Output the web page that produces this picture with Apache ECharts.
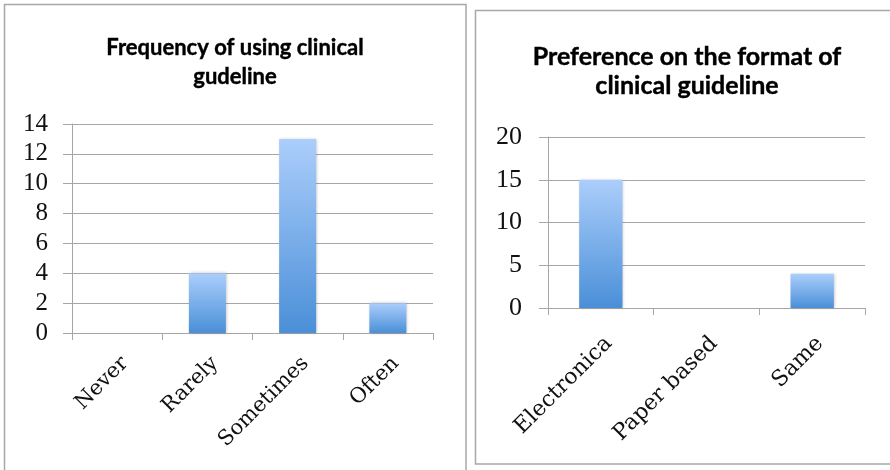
<!DOCTYPE html>
<html>
<head>
<meta charset="utf-8">
<script src="https://cdn.jsdelivr.net/npm/echarts@6/dist/echarts.min.js"></script>
<style>
html,body{margin:0;padding:0;background:#fff;}
#chart{width:890px;height:470px;}
</style>
</head>
<body>
<div id="chart"></div>
<script>
const leftTitle = 'Frequency of using clinical\ngudeline';
const leftCategories = ['Never', 'Rarely', 'Sometimes', 'Often'];
const leftValues = [0, 4, 13, 2];
const leftTicks = { min: 0, max: 14, interval: 2 };

const rightTitle = 'Preference on the format of\nclinical guideline';
const rightCategories = ['Electronica', 'Paper based', 'Same'];
const rightValues = [15, 0, 4];
const rightTicks = { min: 0, max: 20, interval: 5 };

const chart = echarts.init(document.getElementById('chart'), null, { renderer: 'canvas' });

const gridGray = '#a6a6a6';
const barFill = new echarts.graphic.LinearGradient(0, 0, 0, 1, [
  { offset: 0, color: '#abcefb' },
  { offset: 1, color: '#4a8fd8' }
]);

function xAxisDef(idx, cats, fontSize, margin) {
  return {
    type: 'category', gridIndex: idx, data: cats,
    axisLine: { show: true, lineStyle: { color: gridGray, width: 1 } },
    axisTick: { show: true, length: 7, lineStyle: { color: gridGray } },
    axisLabel: {
      rotate: 45, margin: margin, color: '#111',
      fontFamily: 'DejaVu Serif', fontSize: fontSize,
      padding: [0, -11, 0, 0]
    }
  };
}
function yAxisDef(idx, t, fontSize, margin) {
  return {
    type: 'value', gridIndex: idx, min: t.min, max: t.max, interval: t.interval,
    axisLine: { show: true, lineStyle: { color: gridGray, width: 1 } },
    axisTick: { show: true, length: 9, lineStyle: { color: gridGray } },
    splitLine: { show: true, lineStyle: { color: gridGray, width: 1 } },
    axisLabel: { margin: margin, color: '#111', fontFamily: 'Liberation Serif', fontSize: fontSize }
  };
}
const barStyle = {
  color: barFill,
  shadowBlur: 3, shadowColor: 'rgba(0,0,0,0.25)', shadowOffsetX: 1, shadowOffsetY: 0
};

chart.setOption({
  animation: false,
  backgroundColor: '#fff',
  grid: [
    { left: 72, top: 124, width: 361, height: 209 },
    { left: 548, top: 137, width: 317, height: 171 }
  ],
  xAxis: [
    xAxisDef(0, leftCategories, 21, 35),
    xAxisDef(1, rightCategories, 22, 40)
  ],
  yAxis: [
    yAxisDef(0, leftTicks, 25, 24),
    yAxisDef(1, rightTicks, 26, 26)
  ],
  series: [
    { type: 'bar', xAxisIndex: 0, yAxisIndex: 0, data: leftValues, barWidth: '41%', itemStyle: barStyle },
    { type: 'bar', xAxisIndex: 1, yAxisIndex: 1, data: rightValues, barWidth: '41%', itemStyle: barStyle }
  ],
  graphic: [
    { type: 'rect', silent: true, shape: { x: 4.5, y: 4.5, width: 461.5, height: 480 },
      style: { fill: 'none', stroke: '#a8a8a8', lineWidth: 1.5 } },
    { type: 'rect', silent: true, shape: { x: 475.5, y: 10.5, width: 430, height: 453.5 },
      style: { fill: 'none', stroke: '#a8a8a8', lineWidth: 1.5 } },
    { type: 'text', silent: true, x: 235, y: 33,
      style: { text: leftTitle, font: 'bold 22px Lato', textAlign: 'center', textVerticalAlign: 'top', lineHeight: 29, fill: '#000', stroke: '#000', lineWidth: 0.4 } },
    { type: 'text', silent: true, x: 687, y: 42,
      style: { text: rightTitle, font: 'bold 25px Lato', textAlign: 'center', textVerticalAlign: 'top', lineHeight: 29, fill: '#000', stroke: '#000', lineWidth: 0.4 } }
  ]
});
</script>
</body>
</html>
